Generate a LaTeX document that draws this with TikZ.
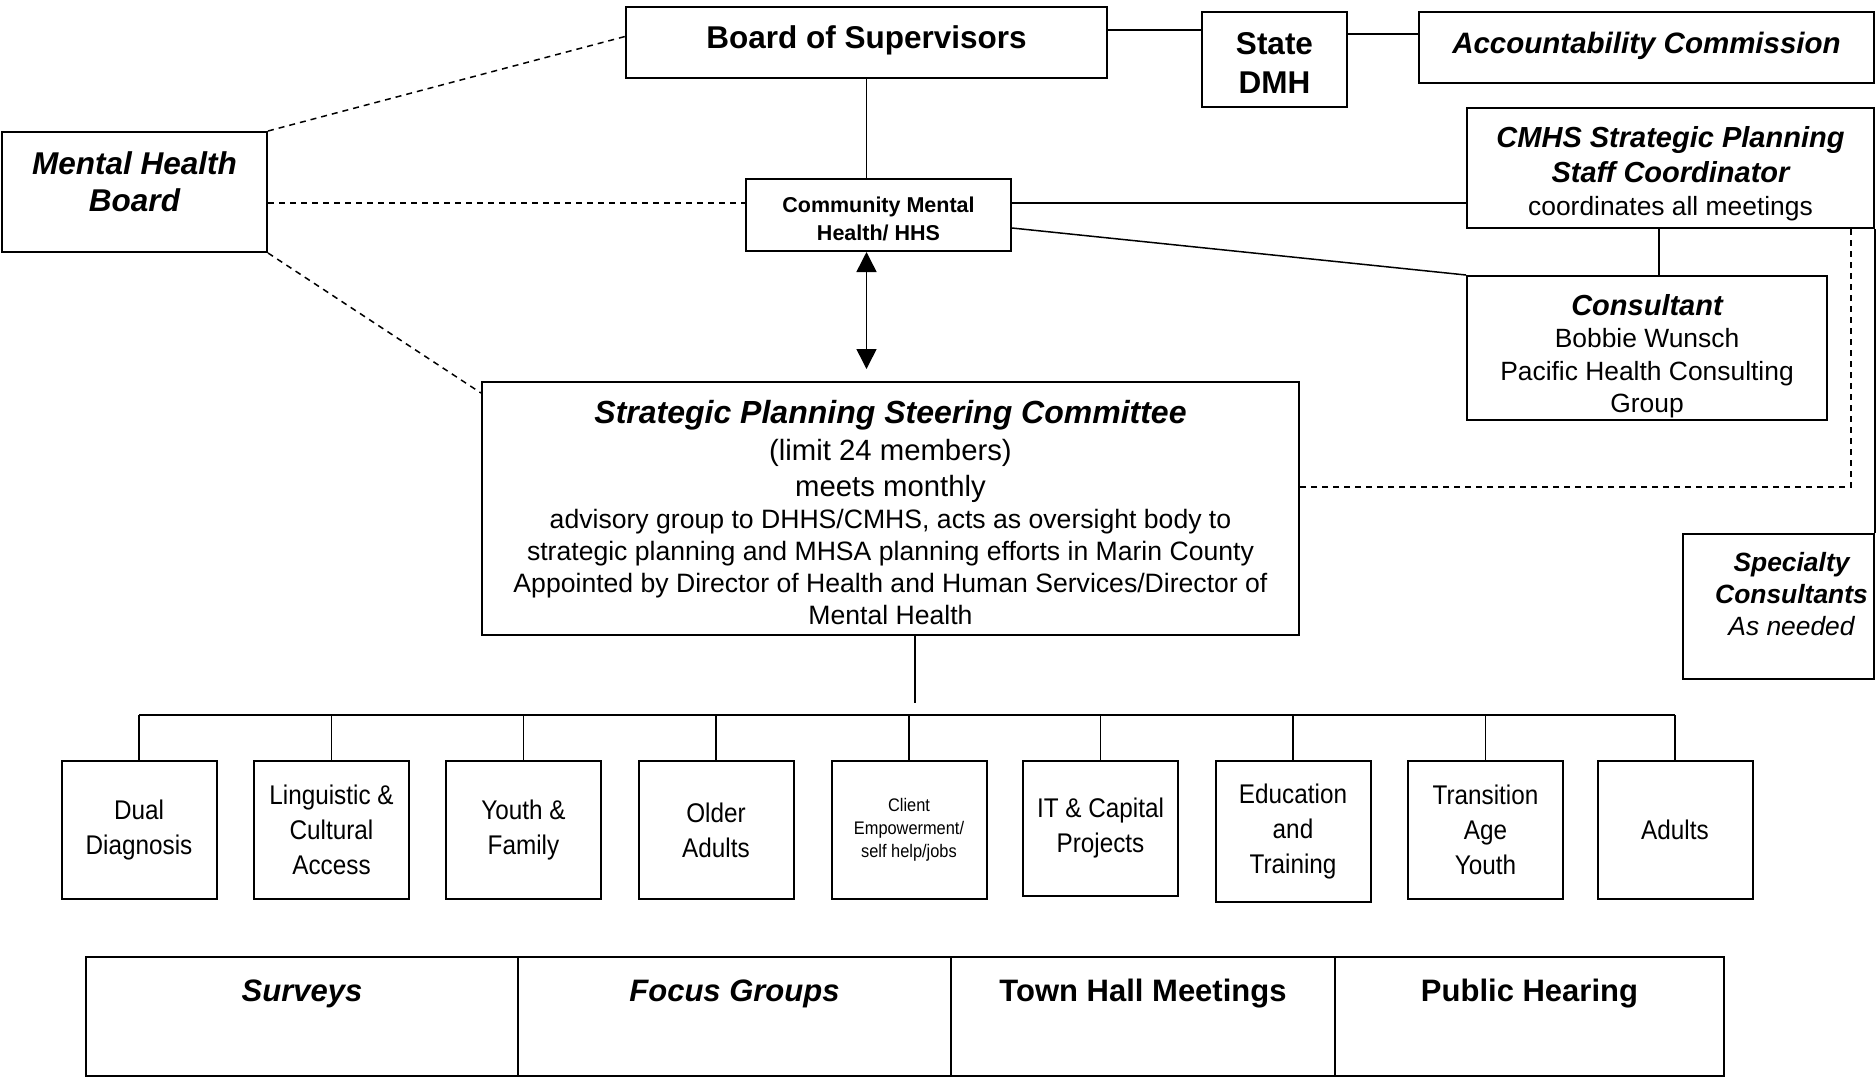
\documentclass[tikz,border=0pt]{standalone}
\usepackage{fontspec}
\setmainfont{Liberation Sans}
\newfontfamily\narrowfont[FakeStretch=0.9]{Liberation Sans}
\usetikzlibrary{arrows.meta}

\begin{document}
\begin{tikzpicture}[
        x=0.5pt, y=-0.5pt,
        box/.style={draw, line width=1pt, inner sep=0pt, align=center},
        bigbox/.style={box, font=\fontsize{15.75}{18.5}\selectfont\bfseries},
        topic/.style={box, minimum width=77.5pt, minimum height=69pt, font=\narrowfont\fontsize{13.5}{17.5}\selectfont},
        cell/.style={box, text height=22pt, text depth=37.5pt, font=\fontsize{15.5}{18}\selectfont\bfseries},
        conn/.style={line width=0.75pt},
        dashconn/.style={conn, dash pattern=on 3pt off 2.5pt},
        dblarrow/.style={conn, {Triangle[length=10pt,width=10pt]}-{Triangle[length=10pt,width=10pt]}}
    ]
        \useasboundingbox (0,0) rectangle (1876,1078);

        % top row
        \node[bigbox, minimum width=240.5pt, text height=20.5pt, text depth=15pt] (board) at (866.5,42.5) {Board of Supervisors};
        \node[bigbox, minimum width=72.5pt, minimum height=47.5pt, font=\fontsize{15.75}{19.5}\selectfont\bfseries] (dmh) at (1274.5,59.5) {\rule{0pt}{14pt}State\\DMH};
        \node[box, minimum width=227.5pt, text height=20.5pt, text depth=15pt, font=\fontsize{14.75}{18}\selectfont\bfseries\itshape] (acc) at (1646.5,47.5) {Accountability Commission};

        \node[bigbox, minimum width=132.5pt, minimum height=60pt, font=\fontsize{15.75}{18.5}\selectfont\bfseries\itshape] (mhb) at (134.5,192) {Mental Health\\Board\rule[-10pt]{0pt}{10pt}};
        \node[box, minimum width=132.5pt, minimum height=36pt, font=\fontsize{10.75}{14}\selectfont\bfseries] (cmh) at (878.5,215) {\rule{0pt}{11.9pt}Community Mental\\Health/ HHS};

        \node[box, minimum width=203.5pt, minimum height=60pt, font=\fontsize{13.2}{17.5}\selectfont] (coord) at (1670.5,168)
            {\rule{0pt}{16.6pt}{\bfseries\itshape\fontsize{14.5}{17.5}\selectfont CMHS Strategic Planning}\\
             {\bfseries\itshape\fontsize{14.5}{17.5}\selectfont Staff Coordinator}\\[-1pt]
             coordinates all meetings};
        \node[box, minimum width=180pt, minimum height=72pt, font=\fontsize{13.2}{16.25}\selectfont] (cons) at (1647,348)
            {\rule{0pt}{18.6pt}{\bfseries\itshape\fontsize{14.5}{16.25}\selectfont Consultant}\\
             Bobbie Wunsch\\Pacific Health Consulting\\Group};
        \node[box, minimum width=95.5pt, minimum height=72.5pt, font=\fontsize{13.2}{16}\selectfont] (spec) at (1778.5,606.5)
            {\hspace*{13pt}{\bfseries\itshape Specialty}\\\hspace*{13pt}{\bfseries\itshape Consultants}\\\hspace*{13pt}{\itshape As needed}\rule[-13pt]{0pt}{13pt}};

        % steering committee
        \node[box, minimum width=408.5pt, minimum height=126.5pt, font=\fontsize{13.3}{16}\selectfont] (steer) at (890.5,508.5)
            {\rule{0pt}{15.3pt}{\bfseries\itshape\fontsize{16}{18}\selectfont Strategic Planning Steering Committee}\\[2.5pt]
             {\fontsize{14.65}{18}\selectfont (limit 24 members)}\\[2pt]
             {\fontsize{14.65}{18}\selectfont meets monthly}\\
             advisory group to DHHS/CMHS, acts as oversight body to\\
             strategic planning and MHSA planning efforts in Marin County\\
             Appointed by Director of Health and Human Services/Director of\\
             Mental Health};

        % work groups
        \node[topic] (dual) at (139,830) {Dual\\Diagnosis};
        \node[topic] (ling) at (331.5,830) {Linguistic \&\\Cultural\\Access};
        \node[topic] (youth) at (523.5,830) {Youth \&\\Family};
        \node[topic] (older) at (716,830) {Older\\Adults};
        \node[topic, font=\narrowfont\fontsize{9.1}{11.5}\selectfont] (client) at (909,830) {Client\\Empowerment/\\self help/jobs};
        \node[topic, minimum height=67.5pt] (itcap) at (1100.5,828.5) {IT \& Capital\\Projects};
        \node[topic, minimum height=70.5pt] (edu) at (1293,831.5) {Education\\and\\Training};
        \node[topic] (tay) at (1485.5,830) {Transition\\Age\\Youth};
        \node[topic] (adults) at (1675,830) {Adults};

        % input methods
        \node[cell, minimum width=216pt, font=\fontsize{15.5}{18}\selectfont\bfseries\itshape] (surveys) at (302,1016.5) {Surveys};
        \node[cell, minimum width=216.5pt, font=\fontsize{15.5}{18}\selectfont\bfseries\itshape] (focus) at (734.5,1016.5) {Focus Groups};
        \node[cell, minimum width=192pt] (town) at (1143,1016.5) {Town Hall Meetings};
        \node[cell, minimum width=194.5pt] (hearing) at (1529.5,1016.5) {Public Hearing};

        \coordinate (bus) at (915,715);
        \coordinate (dashcorner) at (1851,487);

        % connectors
        \draw[conn] ([yshift=6.25pt]board.east) -- ([yshift=6.25pt]board.east -| dmh.west);
        \draw[conn] ([yshift=12.75pt]dmh.east) -- ([yshift=12.75pt]dmh.east -| acc.west);
        \draw[conn] (board.south) -- (board.south |- cmh.north);
        \draw[dblarrow, shorten >=6pt] (board.south |- cmh.south) -- (board.south |- steer.north);

        \draw[dashconn] (mhb.north east) -- ([yshift=3pt]board.west);
        \draw[dashconn] ([yshift=6pt]cmh.west -| mhb.east) -- ([yshift=6pt]cmh.west);
        \draw[dashconn] (mhb.south east) -- ([yshift=-6pt]steer.north west);

        \draw[conn] ([yshift=6pt]cmh.east) -- ([yshift=6pt]cmh.east -| coord.west);
        \draw[conn] ([yshift=-6.5pt]cmh.east) -- (cons.north west);
        \draw[conn] ([xshift=-5.75pt]coord.south) -- ([xshift=-5.75pt]coord.south |- cons.north);
        \draw[conn] (coord.south east) -- (spec.north east);
        \draw[dashconn] (coord.south -| dashcorner) -- (dashcorner) -- (dashcorner -| steer.east);

        \draw[conn, shorten >=6pt] (steer.south -| bus) -- (bus);
        \draw[conn] (dual.north |- bus) -- (adults.north |- bus);
        \draw[conn] (dual.north) -- (dual.north |- bus);
        \draw[conn] (ling.north) -- (ling.north |- bus);
        \draw[conn] (youth.north) -- (youth.north |- bus);
        \draw[conn] (older.north) -- (older.north |- bus);
        \draw[conn] (client.north) -- (client.north |- bus);
        \draw[conn] (itcap.north) -- (itcap.north |- bus);
        \draw[conn] (edu.north) -- (edu.north |- bus);
        \draw[conn] (tay.north) -- (tay.north |- bus);
        \draw[conn] (adults.north) -- (adults.north |- bus);
    \end{tikzpicture}
\end{document}
